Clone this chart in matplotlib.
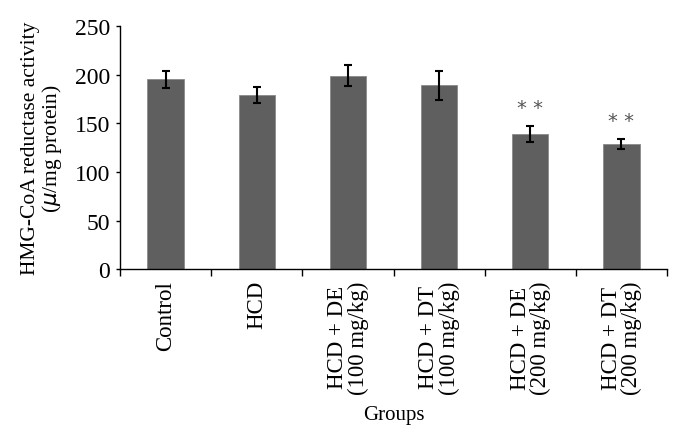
import matplotlib.pyplot as plt
import numpy as np

groups = ["Control", "HCD", "HCD + DE\n(100 mg/kg)", "HCD + DT\n(100 mg/kg)",
          "HCD + DE\n(200 mg/kg)", "HCD + DT\n(200 mg/kg)"]
activity = np.array([195, 179, 199, 189, 139, 129])
sem = np.array([9, 8, 11, 15, 8, 5])
marks = ["", "", "", "", "* *", "* *"]

plt.rcParams['font.family'] = ['Liberation Serif', 'DejaVu Serif']

fig = plt.figure(figsize=(6.82, 4.35), dpi=100)
ax = fig.add_axes([0.176, 0.379, 0.802, 0.559])

x = np.arange(len(groups))
ax.bar(x, activity, width=0.4, color='#5f5f5f', edgecolor='#8a8a8a', linewidth=0.6,
       yerr=sem, error_kw=dict(ecolor='black', elinewidth=1.5, capsize=3, capthick=1.5))

for xi, v, e, m in zip(x, activity, sem, marks):
    if m:
        ax.text(xi, v + e + 9, m, ha='center', va='bottom', fontsize=14,
                family='DejaVu Sans', color='#555555')

ax.set_xlim(-0.5, len(groups) - 0.5)
ax.set_ylim(0, 250)
ax.set_yticks(np.arange(0, 251, 50))
ax.set_xticks(np.arange(-0.5, len(groups), 1), minor=False)
ax.set_xticklabels([])
ax.set_xticks(x, minor=True)
ax.set_xticklabels(groups, minor=True, rotation=90, fontsize=16.5, linespacing=0.95)
ax.tick_params(axis='x', which='minor', length=0, pad=8)
ax.tick_params(axis='x', which='major', length=5, direction='out', width=1)
ax.tick_params(axis='y', length=3, direction='out', width=1, labelsize=17, pad=4)

for s in ['top', 'right']:
    ax.spines[s].set_visible(False)
ax.spines['left'].set_linewidth(1)
ax.spines['bottom'].set_linewidth(1)

ax.set_ylabel("HMG-CoA reductase activity\n($\\mu$/mg protein)", fontsize=15.5,
              linespacing=1.0, labelpad=8)
ax.set_xlabel("Groups", fontsize=15, labelpad=8)

fig.savefig("out.png", dpi=100)
